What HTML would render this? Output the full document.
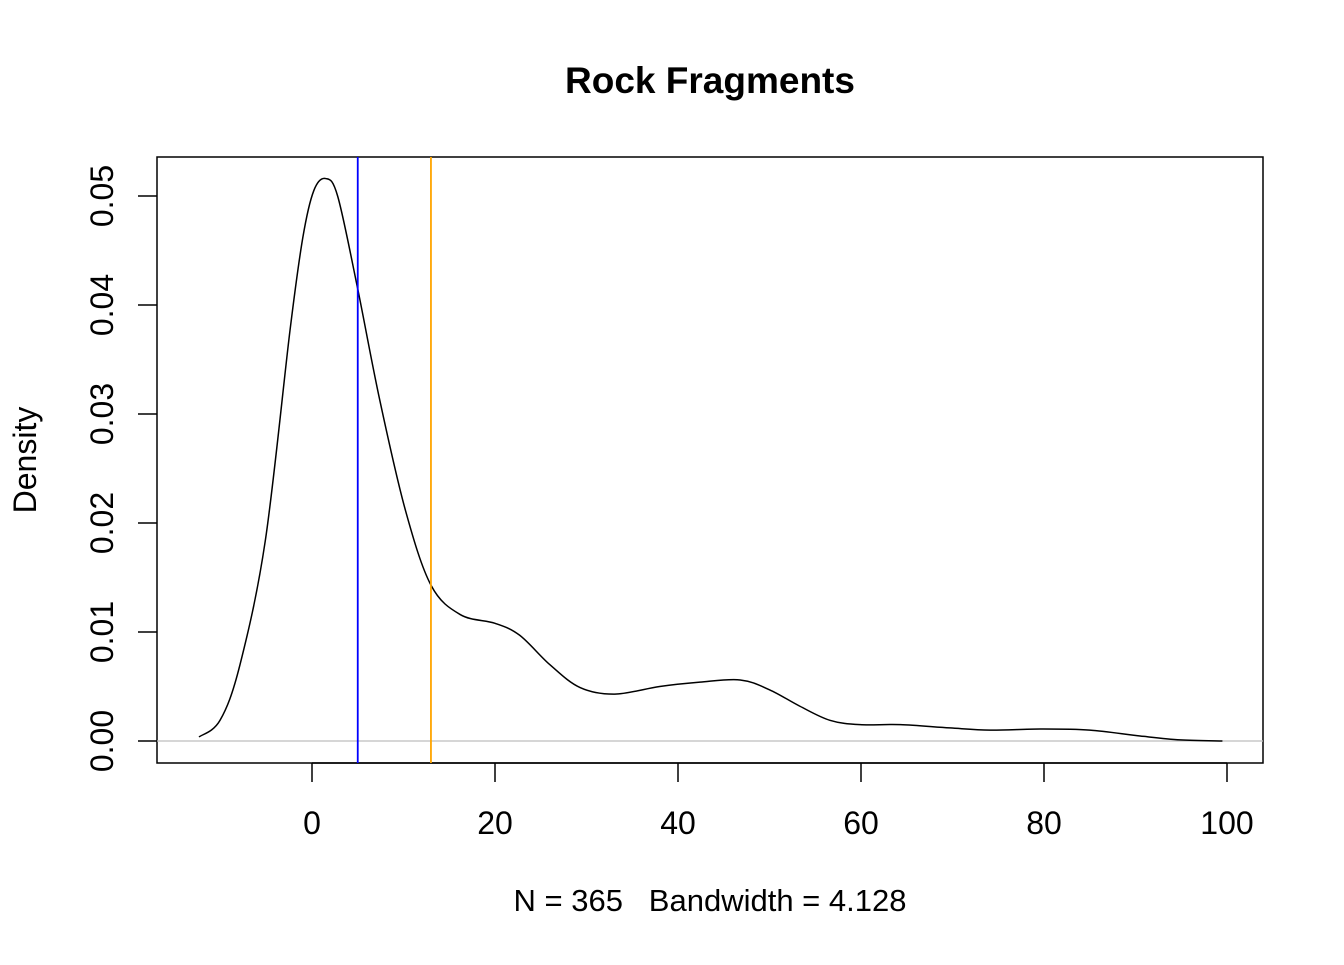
<!DOCTYPE html>
<html><head><meta charset="utf-8"><style>
body{margin:0;background:#fff;}
svg text{font-family:"Liberation Sans",Arial,sans-serif;white-space:pre;}
</style></head><body>
<svg width="1344" height="960">
<text x="710" y="93" text-anchor="middle" font-size="37" font-weight="bold">Rock Fragments</text>
<rect x="157" y="157" width="1106" height="606" fill="none" stroke="#000" stroke-width="1.5"/>
<g id="xaxis"></g>
<g id="yaxis"></g>
<text x="710" y="911" text-anchor="middle" font-size="31" xml:space="preserve">N = 365   Bandwidth = 4.128</text>
<text transform="translate(36,460) rotate(-90)" text-anchor="middle" font-size="32">Density</text>
<g id="marks"></g>
</svg>
<script>
const xTicks=[0,20,40,60,80,100];
const yTicks=[0,0.01,0.02,0.03,0.04,0.05];
const yTickLabels=["0.00","0.01","0.02","0.03","0.04","0.05"];
const densX=[-12.35,-10.05,-7.87,-5.1,-2.4,-1,0.2,1.5,2.8,4.92,7.4,10.2,13,16.2,20,22.7,26,29.3,33.1,38,42.4,46.8,50,53.3,56.6,59.9,64.3,69.7,74.1,79.6,85,90.5,94.9,99.5];
const densY=[0.00037,0.0019,0.007,0.0184,0.0377,0.0462,0.0505,0.0516,0.0500,0.0418,0.0313,0.0212,0.0143,0.0116,0.0108,0.0097,0.007,0.0049,0.0043,0.005,0.0054,0.0056,0.0047,0.0032,0.0019,0.0015,0.0015,0.0012,0.001,0.0011,0.001,0.00046,0.0001,0.0];
const vLines=[5,13];
const vColors=["#0000ff","#ffa500"];
const NS="http://www.w3.org/2000/svg";
const sx=v=>312+v*9.15, sy=v=>741-v*10900;
function mk(t,a,p){const e=document.createElementNS(NS,t);for(const k in a)e.setAttribute(k,a[k]);p.appendChild(e);return e;}
const xa=document.getElementById('xaxis'),ya=document.getElementById('yaxis'),mg=document.getElementById('marks');
mk('line',{x1:sx(xTicks[0]),x2:sx(xTicks[xTicks.length-1]),y1:763,y2:763,stroke:'#000','stroke-width':1.5},xa);
xTicks.forEach(t=>{
 const l=mk('line',{x1:sx(t),x2:sx(t),y1:763,y2:782,stroke:'#000','stroke-width':1.5},xa);
 
 
 const tx=mk('text',{x:sx(t),y:834,'text-anchor':'middle','font-size':32},xa);tx.textContent=t;
 
 
});
yTicks.forEach((t,i)=>{
 const l=mk('line',{x1:138,x2:157,y1:sy(t),y2:sy(t),stroke:'#000','stroke-width':1.5},ya);
 
 
 const tx=mk('text',{transform:`translate(113,${sy(t)}) rotate(-90)`,'text-anchor':'middle','font-size':32},ya);tx.textContent=yTickLabels[i];
 
 
});
const zl=mk('line',{x1:157,x2:1263,y1:sy(0),y2:sy(0),stroke:'#bebebe','stroke-width':1.2},mg);


const P=densX.map((x,i)=>[sx(x),sy(densY[i])]);
let d=`M${P[0][0]},${P[0][1]}`;
for(let i=0;i<P.length-1;i++){
 const p0=P[Math.max(0,i-1)],p1=P[i],p2=P[i+1],p3=P[Math.min(P.length-1,i+2)];
 d+=` C${p1[0]+(p2[0]-p0[0])/6},${p1[1]+(p2[1]-p0[1])/6} ${p2[0]-(p3[0]-p1[0])/6},${p2[1]-(p3[1]-p1[1])/6} ${p2[0]},${p2[1]}`;
}
const cp=mk('path',{d:d,fill:'none',stroke:'#000','stroke-width':1.5},mg);


vLines.forEach((v,i)=>{
 const l=mk('line',{x1:sx(v),x2:sx(v),y1:157,y2:763,stroke:vColors[i],'stroke-width':1.8},mg);
 
 
});
</script>
</body></html>
